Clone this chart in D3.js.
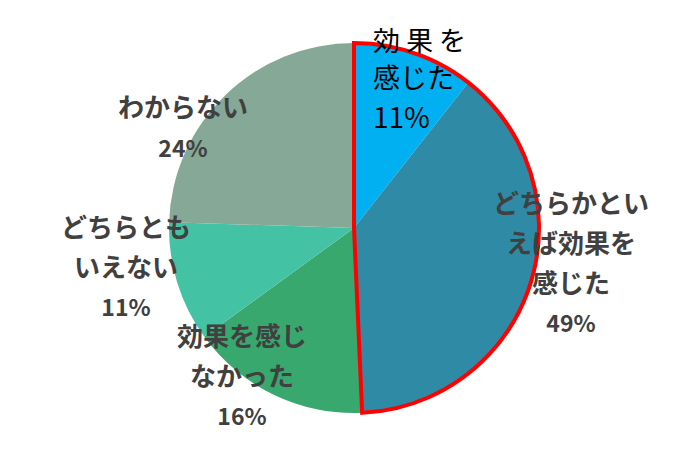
<!DOCTYPE html>
<html>
<head>
<meta charset="utf-8">
<script src="https://cdn.jsdelivr.net/npm/d3@7"></script>
<style>
  body { margin: 0; background: #fff; }
  svg text { font-family: "Noto Sans CJK JP", "Noto Sans", sans-serif; }
</style>
</head>
<body>
<svg width="700" height="457"></svg>
<script>
// slice sizes as drawn (degrees, in %), labels as printed
const categories = ['効果を感じた', 'どちらかといえば効果を感じた', '効果を感じなかった', 'どちらともいえない', 'わからない'];
const shares = [10.6, 38.7, 15.7, 10.5, 24.5];
const pctLabels = ['11%', '49%', '16%', '11%', '24%'];
const labelLines = [
    ['効 果 を', '感じた'],
    ['どちらかとい', 'えば効果を', '感じた'],
    ['効果を感じ', 'なかった'],
    ['どちらとも', 'いえない'],
    ['わからない']
];
const colors = ['#00b0f0', '#2f8ba5', '#38a86e', '#44c2a4', '#86a897'];

const svg = d3.select('svg'),
    cx = 354,
    cy = 228,
    radius = 185;

const pie = d3.pie().sort(null).value(d => d);
const arcs = pie(shares);
const arc = d3.arc().innerRadius(0).outerRadius(radius);

const g = svg.append('g')
    .attr('transform', `translate(${cx},${cy})`);

g.selectAll('path.slice')
    .data(arcs)
    .enter()
    .append('path')
    .attr('class', 'slice')
    .attr('d', arc)
    .attr('fill', (d, i) => colors[i]);

// red outline around the two "effective" slices
g.append('path')
    .attr('d', arc({startAngle: arcs[0].startAngle, endAngle: arcs[1].endAngle}))
    .attr('fill', 'none')
    .attr('stroke', '#ff0000')
    .attr('stroke-width', 4)
    .attr('stroke-linejoin', 'miter');

// label placement (anchor x, first line centre y, line step)
const labelPos = [
    {x: 373, y: 42, step: 37, anchor: 'start'},
    {x: 571, y: 204, step: 40, anchor: 'middle'},
    {x: 242, y: 337, step: 40, anchor: 'middle'},
    {x: 126, y: 228, step: 40, anchor: 'middle'},
    {x: 183, y: 108, step: 41, anchor: 'middle'}
];

const labels = svg.append('g').attr('class', 'labels');

categories.forEach((c, i) => {
    const p = labelPos[i];
    const dark = i === 0 ? '#000' : '#404040';
    const t = labels.append('text')
        .attr('text-anchor', p.anchor)
        .attr('fill', dark);
    labelLines[i].forEach((line, j) => {
        t.append('tspan')
            .attr('x', p.x)
            .attr('y', p.y + j * p.step)
            .attr('dy', '0.35em')
            .attr('font-size', i === 0 ? 27 : 26)
            .attr('font-weight', i === 0 ? 400 : 700)
            .text(line);
    });
    t.append('tspan')
        .attr('x', p.x)
        .attr('y', p.y + labelLines[i].length * p.step + (i === 0 ? 2 : 0))
        .attr('dy', '0.35em')
        .attr('font-size', i === 0 ? 28 : 23)
        .attr('font-weight', i === 0 ? 400 : 700)
        .text(pctLabels[i]);
});
</script>
</body>
</html>
